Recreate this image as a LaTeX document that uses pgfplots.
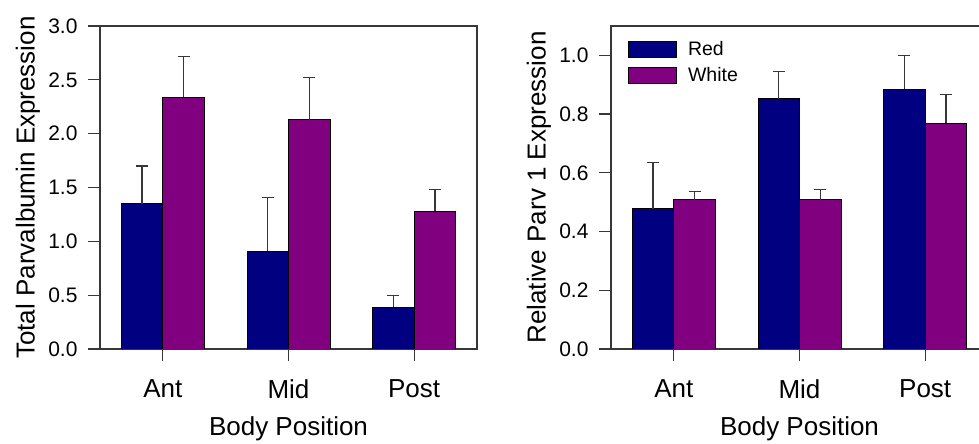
\documentclass[border=0pt]{standalone}
\usepackage{pgfplots}
\pgfplotsset{compat=1.18}
\usepackage{fontspec}
\setmainfont{Liberation Sans}
\definecolor{navyc}{RGB}{0,0,128}
\definecolor{purpc}{RGB}{128,0,128}
\definecolor{axgray}{RGB}{55,55,55}

\pgfplotstableread{
x red rederr white whiteerr
0 1.35 0.35 2.34 0.38
1 0.91 0.50 2.13 0.39
2 0.39 0.11 1.28 0.20
}\lefttab
\pgfplotstableread{
x red rederr white whiteerr
0 0.478 0.158 0.509 0.028
1 0.852 0.093 0.509 0.033
2 0.884 0.116 0.769 0.098
}\righttab

\pgfplotsset{
 myaxis/.style={
  scale only axis, width=377pt, height=323pt,
  xmin=-0.5, xmax=2.5, ymin=0,
  xtick={0,1,2}, xticklabels={Ant,Mid,Post},
  tick align=outside, xtick pos=bottom, ytick pos=left,
  major tick length=12pt,
  axis line style={axgray, line width=1.2pt},
  tick style={axgray, line width=1.2pt},
  ybar=0pt, bar width=41.5pt,
  /pgf/number format/assume math mode=true,
  /pgf/number format/fixed, /pgf/number format/fixed zerofill, /pgf/number format/precision=1,
  yticklabel style={font=\fontsize{21}{24}\selectfont, xshift=-7pt},
  xticklabel style={font=\fontsize{26}{30}\selectfont, yshift=-15pt},
  label style={font=\fontsize{26}{30}\selectfont},
  xlabel={Body Position},
  xlabel style={at={(axis description cs:0.5,-0.2693)}, anchor=base},
  ylabel style={at={(axis description cs:-0.1737,0.5)}, anchor=base},
  error bars/y dir=plus, error bars/y explicit,
  error bars/error bar style={axgray, line width=1.2pt},
  error bars/error mark options={axgray, line width=1.2pt, mark size=6pt, rotate=90},
 }
}

\begin{document}
\begin{tikzpicture}
\path[use as bounding box] (0,0) rectangle (979pt,444pt);
\begin{axis}[myaxis, at={(100pt,95pt)}, anchor=south west,
  ymax=3, ytick={0,0.5,1,1.5,2,2.5,3},
  ylabel={Total Parvalbumin Expression}]
\addplot[fill=navyc, draw=black, line width=0.9pt] table[x=x, y=red, y error=rederr] {\lefttab};
\addplot[fill=purpc, draw=black, line width=0.9pt] table[x=x, y=white, y error=whiteerr] {\lefttab};
\end{axis}
\begin{axis}[myaxis, at={(611pt,95pt)}, anchor=south west,
  ymax=1.1, ytick={0,0.2,0.4,0.6,0.8,1.0},
  ylabel={Relative Parv 1 Expression},
  legend style={at={(axis description cs:0.045,0.954)}, anchor=north west, draw=none, fill=none,
    inner sep=0pt, row sep=9pt, column sep=11pt, font=\fontsize{19.5}{21}\selectfont, nodes={inner sep=0pt}},
  legend cell align=left,
  legend image code/.code={\draw[#1, line width=0.9pt] (0pt,-8pt) rectangle (48pt,8pt);}]
\addplot[fill=navyc, draw=black, line width=0.9pt] table[x=x, y=red, y error=rederr] {\righttab};
\addlegendentry{Red}
\addplot[fill=purpc, draw=black, line width=0.9pt] table[x=x, y=white, y error=whiteerr] {\righttab};
\addlegendentry{White}
\end{axis}
\end{tikzpicture}
\end{document}
